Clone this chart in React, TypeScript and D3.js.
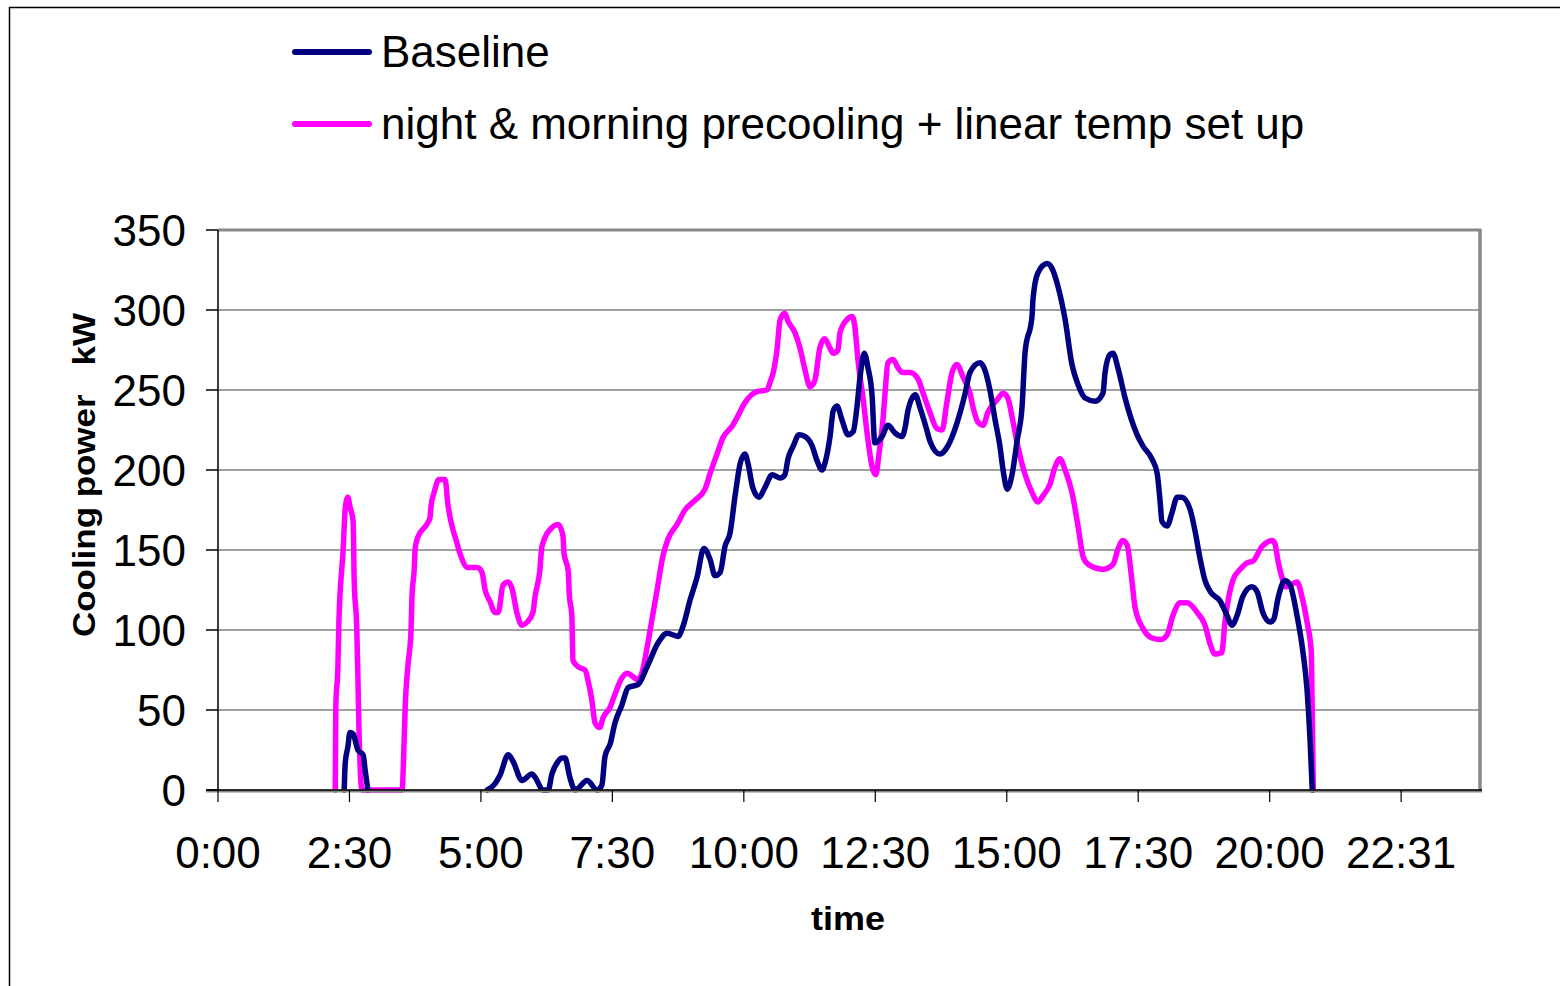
import React from "react";
import * as d3 from "d3";

const seriesNames = ["Baseline", "night & morning precooling + linear temp set up"];
const seriesColors = ["#000080", "#FF00FF"];

const baselineHours = [2.40, 2.42, 2.47, 2.51, 2.57, 2.66, 2.76, 2.80, 2.85, 4.00, 5.12, 5.27, 5.36, 5.52, 5.61, 5.78, 5.97, 6.03, 6.18, 6.28, 6.35, 6.47, 6.54, 6.60, 6.69, 6.79, 7.02, 7.21, 7.30, 7.36, 7.46, 7.55, 7.68, 7.80, 7.99, 8.16, 8.37, 8.54, 8.75, 8.84, 8.98, 9.11, 9.24, 9.36, 9.45, 9.55, 9.64, 9.74, 9.83, 9.93, 10.02, 10.08, 10.17, 10.29, 10.40, 10.54, 10.69, 10.78, 10.84, 10.94, 11.05, 11.16, 11.30, 11.39, 11.49, 11.54, 11.64, 11.70, 11.77, 11.87, 11.98, 12.08, 12.15, 12.21, 12.29, 12.36, 12.44, 12.49, 12.63, 12.74, 12.88, 13.01, 13.07, 13.12, 13.26, 13.35, 13.48, 13.54, 13.73, 13.88, 14.05, 14.21, 14.30, 14.49, 14.59, 14.68, 14.78, 14.87, 14.93, 15.01, 15.10, 15.20, 15.29, 15.35, 15.48, 15.50, 15.59, 15.77, 15.86, 15.98, 16.11, 16.24, 16.36, 16.49, 16.68, 16.83, 16.87, 16.96, 17.02, 17.12, 17.25, 17.48, 17.59, 17.76, 17.86, 17.92, 17.95, 18.05, 18.14, 18.24, 18.33, 18.49, 18.58, 18.68, 18.77, 18.87, 19.06, 19.19, 19.28, 19.38, 19.49, 19.66, 19.76, 19.87, 20.01, 20.08, 20.16, 20.29, 20.39, 20.52, 20.63, 20.71, 20.77, 20.81];
const baselineKW: (number | null)[] = [0, 17, 27, 36, 35, 25, 22, 12, 0, null, 0, 4, 9, 22, 18, 6, 10, 8, 0, 0, 10, 18, 20, 20, 8, 0, 6, 0, 3, 21, 29, 42, 53, 64, 66, 77, 92, 98, 96, 102, 119, 133, 151, 144, 134, 136, 152, 161, 183, 204, 210, 204, 189, 183, 189, 197, 195, 197, 207, 215, 222, 221, 215, 206, 200, 204, 221, 237, 240, 231, 222, 224, 239, 258, 273, 264, 246, 217, 221, 228, 223, 221, 227, 237, 247, 239, 225, 218, 210, 215, 229, 248, 261, 267, 262, 250, 231, 215, 200, 188, 197, 219, 239, 274, 296, 307, 323, 329, 326, 314, 294, 266, 253, 245, 243, 248, 261, 272, 273, 263, 245, 222, 215, 207, 198, 179, 168, 165, 173, 183, 183, 175, 162, 144, 131, 124, 118, 109, 103, 109, 121, 127, 124, 111, 105, 107, 120, 131, 128, 109, 87, 63, 30, 0];

const precoolHours = [2.23, 2.24, 2.28, 2.30, 2.38, 2.42, 2.47, 2.51, 2.57, 2.59, 2.64, 2.66, 2.68, 2.74, 3.50, 3.54, 3.56, 3.61, 3.67, 3.69, 3.73, 3.75, 3.80, 3.97, 4.03, 4.05, 4.11, 4.20, 4.32, 4.37, 4.45, 4.53, 4.60, 4.75, 4.93, 5.02, 5.08, 5.17, 5.27, 5.33, 5.42, 5.52, 5.59, 5.69, 5.78, 5.88, 5.99, 6.03, 6.12, 6.16, 6.35, 6.47, 6.56, 6.58, 6.66, 6.68, 6.73, 6.75, 6.85, 6.98, 7.04, 7.11, 7.17, 7.26, 7.32, 7.46, 7.55, 7.68, 7.78, 7.99, 8.06, 8.16, 8.25, 8.35, 8.46, 8.56, 8.73, 8.88, 9.07, 9.26, 9.36, 9.49, 9.60, 9.79, 9.89, 10.02, 10.25, 10.44, 10.50, 10.56, 10.63, 10.69, 10.78, 10.84, 10.97, 11.07, 11.16, 11.26, 11.35, 11.45, 11.54, 11.64, 11.70, 11.79, 11.83, 11.96, 12.06, 12.11, 12.17, 12.27, 12.36, 12.44, 12.51, 12.57, 12.65, 12.69, 12.74, 12.84, 12.93, 13.01, 13.16, 13.31, 13.41, 13.54, 13.67, 13.77, 13.86, 13.96, 14.05, 14.17, 14.30, 14.36, 14.45, 14.55, 14.64, 14.82, 14.93, 15.02, 15.12, 15.21, 15.35, 15.48, 15.59, 15.69, 15.82, 15.92, 16.01, 16.11, 16.24, 16.36, 16.45, 16.55, 16.83, 17.02, 17.12, 17.21, 17.29, 17.38, 17.44, 17.59, 17.76, 17.92, 18.05, 18.16, 18.30, 18.43, 18.62, 18.77, 18.87, 18.96, 19.09, 19.15, 19.23, 19.30, 19.44, 19.57, 19.68, 19.85, 20.05, 20.10, 20.16, 20.24, 20.29, 20.39, 20.52, 20.62, 20.71, 20.79, 20.81, 20.83];
const precoolKW: (number | null)[] = [0, 52, 77, 106, 150, 176, 183, 177, 168, 131, 100, 71, 39, 0, 0, 31, 52, 77, 99, 121, 137, 151, 158, 166, 170, 177, 186, 194, 194, 179, 165, 156, 148, 139, 139, 136, 125, 118, 111, 111, 128, 130, 126, 110, 103, 105, 111, 121, 137, 152, 164, 166, 159, 148, 137, 123, 108, 81, 77, 75, 68, 56, 42, 39, 45, 52, 60, 70, 73, 69, 73, 89, 106, 125, 146, 157, 166, 175, 181, 188, 198, 210, 220, 228, 234, 242, 249, 250, 255, 261, 275, 294, 298, 293, 286, 276, 263, 252, 256, 277, 282, 276, 273, 275, 286, 294, 296, 290, 269, 244, 219, 202, 197, 210, 233, 250, 267, 269, 264, 261, 261, 257, 248, 236, 226, 225, 242, 261, 266, 258, 248, 239, 230, 228, 236, 244, 248, 245, 230, 215, 197, 186, 180, 184, 191, 202, 207, 200, 186, 164, 146, 141, 138, 141, 151, 156, 153, 131, 114, 101, 95, 94, 97, 109, 117, 117, 111, 103, 91, 85, 86, 105, 122, 131, 138, 142, 143, 152, 156, 154, 143, 132, 127, 128, 130, 120, 105, 87, 47, 0];

const yTicks = [0, 50, 100, 150, 200, 250, 300, 350];
const xTickHours = [0, 2.5, 5, 7.5, 10, 12.5, 15, 17.5, 20, 22.5];
const xTickLabels = ["0:00", "2:30", "5:00", "7:30", "10:00", "12:30", "15:00", "17:30", "20:00", "22:31"];

const FONT = "'Liberation Sans', Arial, sans-serif";

export default function App() {
  const x = d3.scaleLinear().domain([0, 24]).range([218, 1480]);
  const y = d3.scaleLinear().domain([0, 350]).range([790, 230]);

  type P = { h: number; v: number | null };
  const line = d3
    .line<P>()
    .defined((d) => d.v != null)
    .curve(d3.curveMonotoneX)
    .x((d) => x(d.h))
    .y((d) => y(d.v as number));

  const base: P[] = baselineHours.map((h, i) => ({ h, v: baselineKW[i] }));
  const pre: P[] = precoolHours.map((h, i) => ({ h, v: precoolKW[i] }));

  const [x0, x1] = x.range();
  const [yb, yt] = y.range();

  return (
    <svg
      width={1560}
      height={986}
      style={{ position: "absolute", left: 0, top: 0, background: "#fff" }}
    >
      <rect x={0} y={0} width={1560} height={986} fill="#fff" />
      {/* outer chart frame */}
      <rect x={9.5} y={7.5} width={1600} height={1000} fill="none" stroke="#000" strokeWidth={1.5} />

      {/* gridlines */}
      {yTicks.filter((t) => t > 0 && t < 350).map((t) => (
        <line key={"g" + t} x1={x0} x2={x1} y1={y(t)} y2={y(t)} stroke="#808080" strokeWidth={1.5} />
      ))}
      {/* plot border top/right */}
      <line x1={x0} x2={x1 + 1.5} y1={yt} y2={yt} stroke="#888" strokeWidth={3} />
      <line x1={x1} x2={x1} y1={yt} y2={yb} stroke="#888" strokeWidth={3.5} />

      {/* series */}
      <path d={line(pre) || ""} fill="none" stroke={seriesColors[1]} strokeWidth={5.5} strokeLinejoin="round" strokeLinecap="round" />
      <path d={line(base) || ""} fill="none" stroke={seriesColors[0]} strokeWidth={5.5} strokeLinejoin="round" strokeLinecap="round" />

      {/* axes */}
      <line x1={x0 - 12} x2={x1 + 2} y1={yb + 1} y2={yb + 1} stroke="#888" strokeWidth={3} />
      <line x1={x0 - 12} x2={x1 + 2} y1={yb} y2={yb} stroke="#000" strokeWidth={1.5} />
      <line x1={x0} x2={x0} y1={yt} y2={yb} stroke="#000" strokeWidth={1.5} />
      {yTicks.map((t) => (
        <g key={"yt" + t}>
          <line x1={x0 - 12} x2={x0} y1={y(t)} y2={y(t)} stroke="#000" strokeWidth={1.5} />
          <text x={186} y={y(t) + 15.5} textAnchor="end" fontFamily={FONT} fontSize={44} fill="#000">
            {t}
          </text>
        </g>
      ))}
      {xTickHours.map((h, i) => (
        <g key={"xt" + h}>
          <line x1={x(h)} x2={x(h)} y1={yb} y2={yb + 12} stroke="#000" strokeWidth={1.2} />
          <text x={x(h)} y={868} textAnchor="middle" fontFamily={FONT} fontSize={44} fill="#000">
            {xTickLabels[i]}
          </text>
        </g>
      ))}

      {/* axis titles */}
      <text x={848} y={930} textAnchor="middle" fontFamily={FONT} fontWeight="bold" fontSize={34} textLength={74} lengthAdjust="spacingAndGlyphs">
        time
      </text>
      <text
        transform="translate(95,475) rotate(-90)"
        textAnchor="middle"
        fontFamily={FONT}
        fontWeight="bold"
        fontSize={32}
        textLength={324}
        lengthAdjust="spacingAndGlyphs"
        style={{ whiteSpace: "pre" }}
      >
        {"Cooling power   kW"}
      </text>

      {/* legend */}
      {seriesNames.map((name, i) => (
        <g key={name}>
          <line x1={295} x2={369} y1={52 + i * 72} y2={52 + i * 72} stroke={seriesColors[i]} strokeWidth={6} strokeLinecap="round" />
          <text x={381} y={67 + i * 72} fontFamily={FONT} fontSize={44} fill="#000">
            {name}
          </text>
        </g>
      ))}
    </svg>
  );
}
